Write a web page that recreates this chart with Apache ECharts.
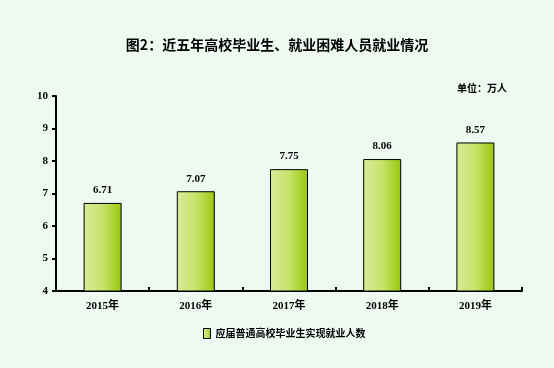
<!DOCTYPE html>
<html><head><meta charset="utf-8">
<script src="https://cdn.jsdelivr.net/npm/echarts@6/dist/echarts.min.js"></script>
<style>html,body{margin:0;padding:0;background:#eef9f2;}#c{width:554px;height:368px;}</style>
</head><body><div id="c"></div>
<script>
const categories = ['2015年','2016年','2017年','2018年','2019年'];
const values = [6.71, 7.07, 7.75, 8.06, 8.57];
const yTicks = [4,5,6,7,8,9,10];
const seriesName = '应届普通高校毕业生实现就业人数';

const fontFam = '"Liberation Serif","Noto Sans CJK SC",serif';
const grad = new echarts.graphic.LinearGradient(0,0,1,0,[
  {offset:0,color:'#dbeb9a'},{offset:0.5,color:'#c6e26a'},{offset:1,color:'#99c80c'}]);
const chart = echarts.init(document.getElementById('c'));
chart.setOption({
  backgroundColor:'#eef9f2',
  animation:false,
  title:[{text:'图2：近五年高校毕业生、就业困难人员就业情况',left:'center',top:33,
    textStyle:{fontFamily:'"Noto Sans CJK SC"',fontWeight:'bold',fontSize:14,color:'#000'}},
    {text:'单位：万人',left:452,top:78,textStyle:{fontFamily:'"Noto Sans CJK SC"',fontWeight:'bold',fontSize:10,color:'#000'}}],
  legend:{bottom:24,left:198,itemWidth:7,itemHeight:10,itemGap:4,icon:'rect',
    textStyle:{fontFamily:'"Noto Sans CJK SC"',fontWeight:'bold',fontSize:10,color:'#000'},
    data:[{name:seriesName,itemStyle:{color:grad,borderColor:'#000',borderWidth:1}}]},
  grid:{left:56,right:32,top:96,bottom:77},
  xAxis:{type:'category',data:categories,
    axisLine:{lineStyle:{color:'#000',width:2}},
    axisTick:{show:true,inside:true,length:4,lineStyle:{color:'#000',width:2}},
    axisLabel:{fontFamily:fontFam,fontWeight:'bold',fontSize:11,color:'#000',margin:10}},
  yAxis:{type:'value',min:yTicks[0],max:yTicks[yTicks.length-1],interval:1,
    splitLine:{show:false},
    axisLine:{show:true,lineStyle:{color:'#000',width:2}},
    axisTick:{show:true,length:4,lineStyle:{color:'#000',width:2}},
    axisLabel:{fontFamily:fontFam,fontWeight:'bold',fontSize:11,color:'#000',margin:8}},
  series:[{name:seriesName,type:'bar',data:values,barWidth:38,
    itemStyle:{color:grad,borderColor:'#000',borderWidth:1},
    label:{show:true,position:'top',distance:7,fontFamily:fontFam,fontWeight:'bold',fontSize:11,color:'#000',
      formatter:p=>p.value.toFixed(2)}}]
});
</script></body></html>
